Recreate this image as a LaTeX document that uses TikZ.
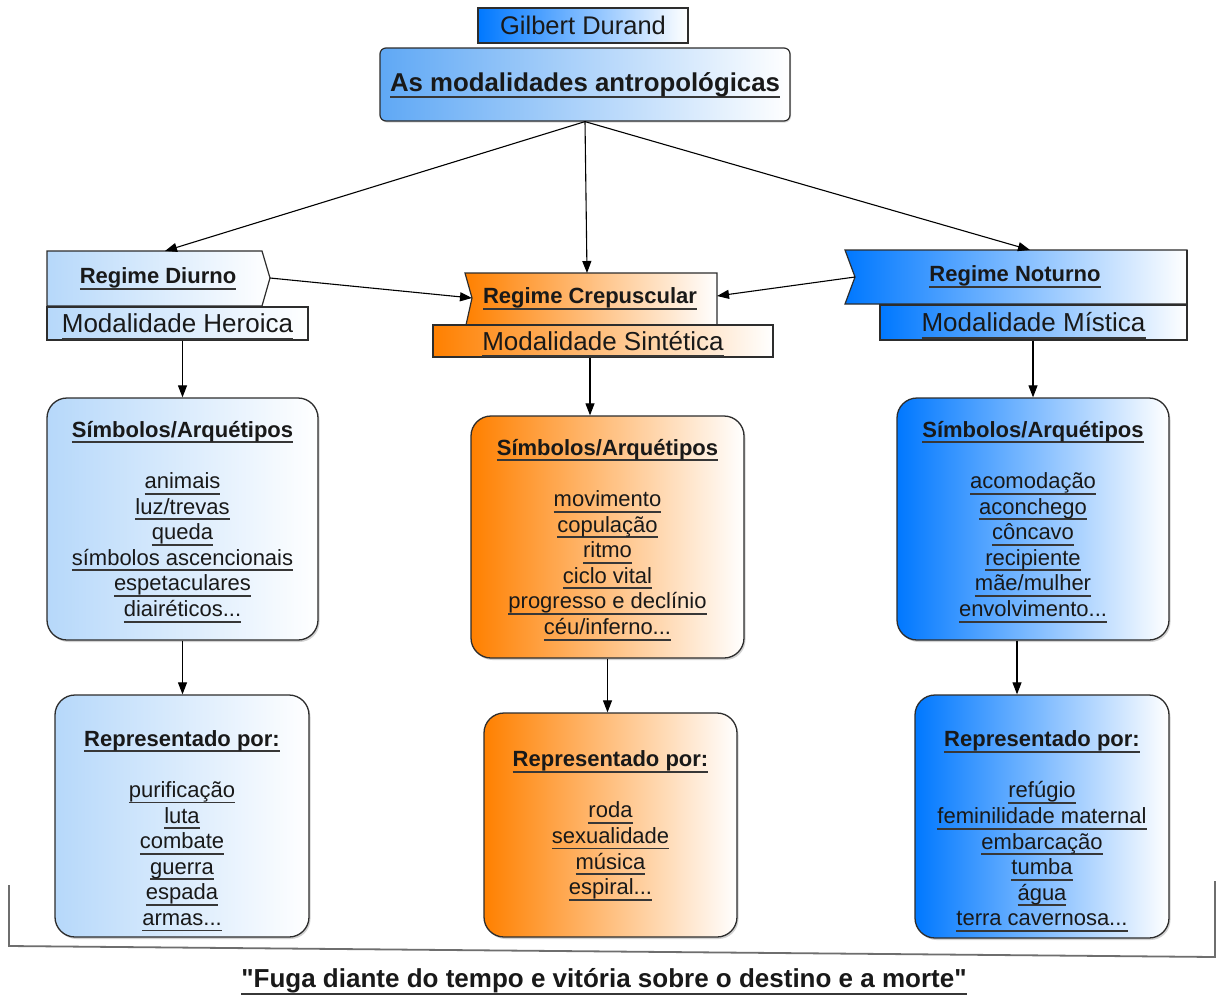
\documentclass[tikz,border=0pt]{standalone}
\usepackage{fontspec}
\setmainfont{Liberation Sans}
\usetikzlibrary{arrows.meta,shadows}
\definecolor{lblue}{RGB}{182,216,250}
\definecolor{mblue}{RGB}{95,168,245}
\definecolor{dblue}{RGB}{0,120,255}
\definecolor{orng}{RGB}{255,128,0}
\definecolor{edge}{RGB}{45,45,45}
\definecolor{ulc}{RGB}{55,55,55}
\definecolor{txt}{RGB}{25,25,25}
\definecolor{frame}{RGB}{110,110,110}
\newcommand\ul[1]{\leavevmode\begingroup\setbox0\hbox{#1}\rlap{\smash{\textcolor{ulc}{\rule[-0.27em]{\wd0}{0.085em}}}}\box0\endgroup}
\newcommand\sq{\XeTeXglyph\XeTeXcharglyph"22\relax}
\begin{document}
\begin{tikzpicture}[x=1pt,y=-1pt,
  every node/.style={text=txt, inner sep=0pt},
  arr/.style={-{Triangle[length=12pt,width=9pt]}, line width=1.1pt, draw=black},
  items/.style={font=\fontsize{22}{25.6}\selectfont, align=center},
  modtxt/.style={font=\fontsize{26}{30}\selectfont},
  regtxt/.style={font=\bfseries\fontsize{22}{25.6}\selectfont},
  bar/.style={draw=edge, line width=1.2pt, rectangle},
  rbox/.style={draw=edge, line width=1.3pt, rectangle, rounded corners=20pt,
     drop shadow={shadow xshift=1.5pt, shadow yshift=-2pt, opacity=0.35}},
  ]
\useasboundingbox (0,0) rectangle (1217,996);
\fill[white] (0,0) rectangle (1217,996);

% header
\node[bar, left color=dblue, right color=white, minimum width=210pt, minimum height=35pt,
  font=\fontsize{25.5}{30}\selectfont] (gil) at (583,25.5) {Gilbert Durand};
\node[draw=edge, line width=1.2pt, rectangle, rounded corners=6pt, left color=mblue, right color=white,
  minimum width=410pt, minimum height=73pt, font=\bfseries\fontsize{25.8}{30}\selectfont,
  drop shadow={shadow xshift=1pt, shadow yshift=-1.5pt, opacity=0.3}]
  (title) at (585,84.5) {\ul{As modalidades antropológicas}};

% Regime Diurno
\path[draw=edge, line width=1.2pt, left color=lblue, right color=white]
  (47,251) -- (165,251) coordinate (dTop) -- (262,251) -- (270,278) coordinate (dTip)
  -- (262,306) -- (47,306) -- cycle;
\node[regtxt] (diurno) at (158,278) {\ul{Regime Diurno}};
\node[bar, left color=lblue, right color=white, minimum width=261pt, minimum height=33pt, modtxt]
  (heroica) at (177.5,323.5) {\ul{Modalidade Heroica}};

% Regime Crepuscular
\path[draw=edge, line width=1.2pt, left color=orng, right color=white]
  (465,273) -- (587,273) coordinate (cTop) -- (717,273) -- (717,296) coordinate (cE)
  -- (717,325) -- (466,325) -- (472,298) coordinate (cW) -- cycle;
\node[regtxt] (crep) at (590,298) {\ul{Regime Crepuscular}};
\node[bar, left color=orng, right color=white, minimum width=340pt, minimum height=32pt, modtxt]
  (sint) at (603,341) {\ul{Modalidade Sintética}};

% Regime Noturno
\path[draw=edge, line width=1.2pt, left color=dblue, right color=white]
  (845,250) -- (1030,250) coordinate (nTop) -- (1187,250) -- (1187,304) -- (845,304)
  -- (855,277) coordinate (nW) -- cycle;
\draw[edge, line width=2pt] (1187,250) -- (1187,304);
\node[regtxt] (noturno) at (1015,276) {\ul{Regime Noturno}};
\node[bar, left color=dblue, right color=white, minimum width=307pt, minimum height=35pt, modtxt]
  (mistica) at (1033.5,322.5) {\ul{Modalidade Mística}};

% Simbolos boxes
\node[rbox, left color=lblue, right color=white, minimum width=271pt, minimum height=242pt, items]
  (symL) at (182.5,519) {\ul{\textbf{Símbolos/Arquétipos}}\\[25.6pt]
  \ul{animais}\\ \ul{luz/trevas}\\ \ul{queda}\\ \ul{símbolos ascencionais}\\ \ul{espetaculares}\\ \ul{diairéticos...}};
\node[rbox, left color=orng, right color=white, minimum width=273pt, minimum height=242pt, items]
  (symM) at (607.5,537) {\ul{\textbf{Símbolos/Arquétipos}}\\[25.6pt]
  \ul{movimento}\\ \ul{copulação}\\ \ul{ritmo}\\ \ul{ciclo vital}\\ \ul{progresso e declínio}\\ \ul{céu/inferno...}};
\node[rbox, left color=dblue, right color=white, minimum width=272pt, minimum height=242pt, items]
  (symR) at (1033,519) {\ul{\textbf{Símbolos/Arquétipos}}\\[25.6pt]
  \ul{acomodação}\\ \ul{aconchego}\\ \ul{côncavo}\\ \ul{recipiente}\\ \ul{mãe/mulher}\\ \ul{envolvimento...}};

% Representado boxes
\node[rbox, left color=lblue, right color=white, minimum width=254pt, minimum height=242pt]
  (repL) at (182,816) {};
\node[items] (repLtxt) at ([yshift=-12pt]repL.center) {\ul{\textbf{Representado por:}}\\[25.6pt]
  \ul{purificação}\\ \ul{luta}\\ \ul{combate}\\ \ul{guerra}\\ \ul{espada}\\ \ul{armas...}};
\node[rbox, left color=orng, right color=white, minimum width=253pt, minimum height=224pt, items]
  (repM) at (610.5,825) {\ul{\textbf{Representado por:}}\\[25.6pt]
  \ul{roda}\\ \ul{sexualidade}\\ \ul{música}\\ \ul{espiral...}};
\node[rbox, left color=dblue, right color=white, minimum width=254pt, minimum height=243pt]
  (repR) at (1042,816.5) {};
\node[items] (repRtxt) at ([yshift=-12pt]repR.center) {\ul{\textbf{Representado por:}}\\[25.6pt]
  \ul{refúgio}\\ \ul{feminilidade maternal}\\ \ul{embarcação}\\ \ul{tumba}\\ \ul{água}\\ \ul{terra cavernosa...}};

% connectors
\draw[arr] (title.south) -- (dTop);
\draw[arr] (title.south) -- (cTop);
\draw[arr] (title.south) -- (nTop);
\draw[arr] (dTip) -- (cW);
\draw[arr] (nW) -- (cE);
\draw[arr] (symL.north |- heroica.south) -- (symL.north);
\draw[arr] (sint.south -| 590,0) -- (symM.north -| 590,0);
\draw[arr] (symR.north |- mistica.south) -- (symR.north);
\draw[arr] (symL.south) -- (repL.north -| symL.south);
\draw[arr] (symM.south) -- (repM.north -| symM.south);
\draw[arr] (symR.south -| 1017,0) -- (repR.north -| 1017,0);

% footer frame and motto
\draw[frame, line width=1.8pt] (9,885) -- (9,946) -- (1215,957) -- (1215,881);
\node[font=\bfseries\fontsize{26}{30}\selectfont] (motto) at (604,981)
  {\ul{\sq Fuga diante do tempo e vitória sobre o destino e a morte\sq}};
\end{tikzpicture}
\end{document}
